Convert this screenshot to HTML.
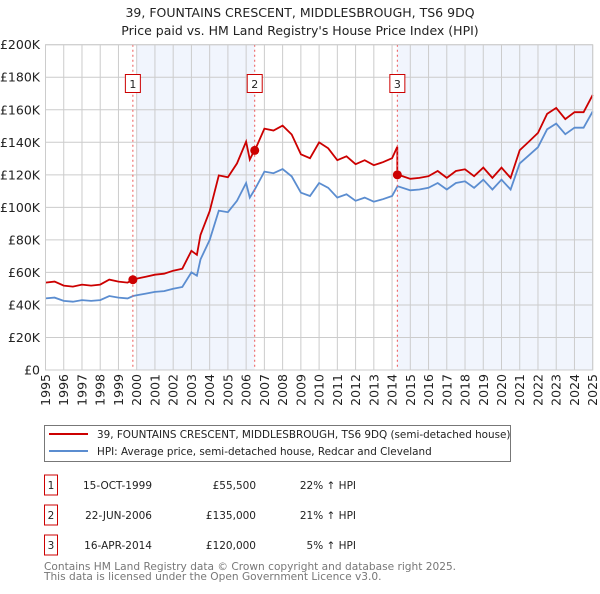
<!DOCTYPE html>
<html><head><meta charset="utf-8"><style>
body{margin:0;background:#fff;font-family:"DejaVu Sans","Liberation Sans",sans-serif;}
svg text{font-family:"DejaVu Sans","Liberation Sans",sans-serif;}
</style></head><body>
<svg id="c" width="600" height="590" xmlns="http://www.w3.org/2000/svg">
<text x="300" y="17" text-anchor="middle" font-size="12.5" fill="#222">39, FOUNTAINS CRESCENT, MIDDLESBROUGH, TS6 9DQ</text>
<text x="300" y="35" text-anchor="middle" font-size="12.5" fill="#222">Price paid vs. HM Land Registry's House Price Index (HPI)</text>
<g id="plot"></g>
<g>
<rect x="44.5" y="425.5" width="466" height="36" fill="#fff" stroke="#777"/>
<line x1="49" y1="434" x2="88" y2="434" stroke="#cc0000" stroke-width="2"/>
<text x="97" y="438" font-size="10.4" fill="#222">39, FOUNTAINS CRESCENT, MIDDLESBROUGH, TS6 9DQ (semi-detached house)</text>
<line x1="49" y1="451" x2="88" y2="451" stroke="#5b8dd0" stroke-width="2"/>
<text x="97" y="455" font-size="10.4" fill="#222">HPI: Average price, semi-detached house, Redcar and Cleveland</text>
</g>
<g id="tbl" font-size="10.5" fill="#222"></g>
<text x="44" y="570" font-size="10.6" fill="#777">Contains HM Land Registry data © Crown copyright and database right 2025.</text>
<text x="44" y="580" font-size="10.6" fill="#777">This data is licensed under the Open Government Licence v3.0.</text>
</svg>
<script>
const hpiYears=[1995,1995.5,1996,1996.5,1997,1997.5,1998,1998.5,1999,1999.5,1999.8,2000,2000.5,2001,2001.5,2002,2002.5,2003,2003.3,2003.5,2004,2004.5,2005,2005.5,2006,2006.2,2006.5,2007,2007.5,2008,2008.5,2009,2009.5,2010,2010.5,2011,2011.5,2012,2012.5,2013,2013.5,2014,2014.3,2015,2015.5,2016,2016.5,2017,2017.5,2018,2018.5,2019,2019.5,2020,2020.5,2021,2021.5,2022,2022.5,2023,2023.5,2024,2024.5,2025];
const hpiValues=[44,44.5,42.5,42,43,42.5,43,45.5,44.5,44,45.5,46,47,48,48.5,50,51,60,58,68,80,98,97,104,115,106,111.5,122,121,123.5,119,109,107,115,112,106,108,104,106,103.5,105,107,113,110.5,111,112,115,111,115,116,112,117,111,117,111,127,132,137,148,151.5,145,149,149,159];
const saleYears=[1999.79,2006.47,2014.29];
const salePrices=[55.5,135,120];
const saleLabels=["1","2","3"];
const saleDates=["15-OCT-1999","22-JUN-2006","16-APR-2014"];
const salePriceText=["£55,500","£135,000","£120,000"];
const salePct=["22% ↑ HPI","21% ↑ HPI","5% ↑ HPI"];
const yTicks=[0,20,40,60,80,100,120,140,160,180,200];
const yTickLabels=["£0","£20K","£40K","£60K","£80K","£100K","£120K","£140K","£160K","£180K","£200K"];
const xTicks=[1995,1996,1997,1998,1999,2000,2001,2002,2003,2004,2005,2006,2007,2008,2009,2010,2011,2012,2013,2014,2015,2016,2017,2018,2019,2020,2021,2022,2023,2024,2025];

const X0=45.5,X1=592.7,Y0=370,Y1=44.7;
const xs=y=>X0+(y-1995)/30*(X1-X0);
const ys=v=>Y0-v/200*(Y0-Y1);
const NS="http://www.w3.org/2000/svg";
const plot=document.getElementById('plot');
function mk(tag,attrs,parent){const e=document.createElementNS(NS,tag);for(const k in attrs)e.setAttribute(k,attrs[k]);(parent||plot).appendChild(e);return e;}
function hpiAt(t){for(let i=0;i<hpiYears.length-1;i++){if(t<=hpiYears[i+1]){const f=(t-hpiYears[i])/(hpiYears[i+1]-hpiYears[i]);return hpiValues[i]+f*(hpiValues[i+1]-hpiValues[i]);}}return hpiValues[hpiValues.length-1];}

let r=mk('rect',{x:X0,y:Y1,width:X1-X0,height:Y0-Y1,fill:'#fff'});


let s1=mk('rect',{x:xs(2000),y:Y1,width:xs(saleYears[1])-xs(2000),height:Y0-Y1,fill:'#eef3fc',opacity:0.8});


let s2=mk('rect',{x:xs(saleYears[2]),y:Y1,width:X1-xs(saleYears[2]),height:Y0-Y1,fill:'#eef3fc',opacity:0.8});


yTicks.forEach((v,i)=>{
 let l=mk('line',{x1:X0,x2:X1,y1:ys(v),y2:ys(v),stroke:'#ccc','stroke-width':1});
 
 
 let t=mk('text',{x:40,y:ys(v)+4.5,'text-anchor':'end','font-size':12.5,fill:'#222'});
 t.textContent=yTickLabels[i];
 
 
});
xTicks.forEach(y=>{
 let l=mk('line',{x1:xs(y),x2:xs(y),y1:Y1,y2:Y0,stroke:'#ccc','stroke-width':1});
 
 
 let t=mk('text',{x:0,y:0,'text-anchor':'end','font-size':12.5,fill:'#222',transform:`translate(${xs(y)+4.5},374) rotate(-90)`});
 t.textContent=String(y);
 
 
});
let pts=hpiYears.map((y,i)=>xs(y).toFixed(1)+','+ys(hpiValues[i]).toFixed(1)).join(' ');
let hl=mk('polyline',{points:pts,fill:'none',stroke:'#5b8dd0','stroke-width':1.8});


function factorAt(t){let k=0;for(let i=0;i<saleYears.length;i++){if(t>=saleYears[i])k=i;}return salePrices[k]/hpiAt(saleYears[k]);}
const tAll=hpiYears.concat(saleYears).sort((a,b)=>a-b);
let rp=[];
tAll.forEach(t=>{
 saleYears.forEach((sy,i)=>{if(Math.abs(t-sy)<1e-9&&i>0){rp.push(xs(t).toFixed(1)+','+ys(hpiAt(t)*salePrices[i-1]/hpiAt(saleYears[i-1])).toFixed(1));}});
 rp.push(xs(t).toFixed(1)+','+ys(hpiAt(t)*factorAt(t)).toFixed(1));
});
let pl=mk('polyline',{points:rp.join(' '),fill:'none',stroke:'#cc0000','stroke-width':1.8});


saleYears.forEach((sy,i)=>{
 let d=mk('line',{x1:xs(sy),x2:xs(sy),y1:Y1,y2:Y0,stroke:'#e55','stroke-width':1,'stroke-dasharray':'2,3'});
 
 
 let c=mk('circle',{cx:xs(sy),cy:ys(salePrices[i]),r:4.5,fill:'#cc0000'});
 
 
 let b=mk('rect',{x:xs(sy)-7.5,y:74.5,width:15,height:18,fill:'#fff',stroke:'#cc0000'});
 
 
 let t=mk('text',{x:xs(sy),y:88,'text-anchor':'middle','font-size':11,fill:'#222'});
 t.textContent=saleLabels[i];
 
 
});
let fr=mk('rect',{x:X0,y:Y1,width:X1-X0,height:Y0-Y1,fill:'none',stroke:'#ccc'});


const tbl=document.getElementById('tbl');
saleLabels.forEach((lab,i)=>{
 const cy=485+30*i;
 let b=mk('rect',{x:44.5,y:cy-10,width:13,height:20,fill:'#fff',stroke:'#cc0000'},tbl);
 
 
 let t=mk('text',{x:51,y:cy+4,'text-anchor':'middle'},tbl);t.textContent=lab;
 
 
 let d=mk('text',{x:152,y:cy+4,'text-anchor':'end'},tbl);d.textContent=saleDates[i];
 
 
 let p=mk('text',{x:256,y:cy+4,'text-anchor':'end'},tbl);p.textContent=salePriceText[i];
 
 
 let q=mk('text',{x:356,y:cy+4,'text-anchor':'end'},tbl);q.textContent=salePct[i];
 
 
});
</script>
</body></html>
